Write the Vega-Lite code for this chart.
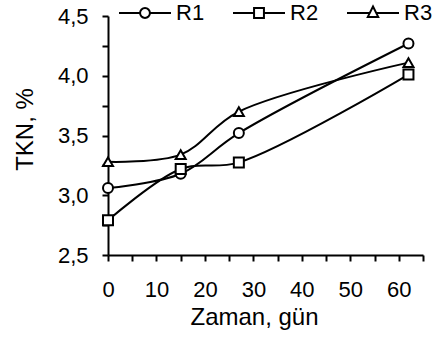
{
  "$schema": "https://vega.github.io/schema/vega-lite/v6.json",
  "width": 315,
  "height": 239,
  "autosize": {"type": "none"},
  "padding": {"left": 108, "top": 16, "right": 11, "bottom": 85},
  "background": "white",
  "config": {
    "view": {"stroke": null},
    "font": "Liberation Sans",
    "axis": {
      "grid": false,
      "domainColor": "black",
      "domainWidth": 2,
      "tickColor": "black",
      "tickWidth": 2,
      "tickSize": 6,
      "labelFont": "Liberation Sans",
      "labelFontSize": 22,
      "labelColor": "black",
      "titleFont": "Liberation Sans",
      "titleFontSize": 24,
      "titleFontWeight": "normal",
      "titleColor": "black"
    }
  },
  "data": {
    "values": [
      {"series": "R1", "day": 0, "tkn": 3.06},
      {"series": "R1", "day": 15, "tkn": 3.18},
      {"series": "R1", "day": 27, "tkn": 3.52},
      {"series": "R1", "day": 62, "tkn": 4.27},
      {"series": "R2", "day": 0, "tkn": 2.79},
      {"series": "R2", "day": 15, "tkn": 3.22},
      {"series": "R2", "day": 27, "tkn": 3.275},
      {"series": "R2", "day": 62, "tkn": 4.01},
      {"series": "R3", "day": 0, "tkn": 3.28},
      {"series": "R3", "day": 15, "tkn": 3.34},
      {"series": "R3", "day": 27, "tkn": 3.7},
      {"series": "R3", "day": 62, "tkn": 4.11}
    ]
  },
  "encoding": {
    "x": {
      "field": "day",
      "type": "quantitative",
      "scale": {"domain": [0, 65], "nice": false},
      "axis": {
        "title": "Zaman, gün",
        "values": [0, 5, 10, 15, 20, 25, 30, 35, 40, 45, 50, 55, 60, 65],
        "labelExpr": "datum.value % 10 == 0 && datum.value <= 60 ? datum.label : ''",
        "labelPadding": 18,
        "titlePadding": 5,
        "titleX": 146,
        "titleAnchor": "middle",
        "labelFlush": false
      }
    },
    "y": {
      "field": "tkn",
      "type": "quantitative",
      "scale": {"domain": [2.5, 4.5], "nice": false, "zero": false},
      "axis": {
        "title": "TKN, %",
        "values": [2.5, 2.75, 3, 3.25, 3.5, 3.75, 4, 4.25, 4.5],
        "labelExpr": "round(datum.value * 4) % 2 == 0 ? replace(format(datum.value, '.1f'), '.', ',') : ''",
        "labelPadding": 14,
        "titlePadding": 20,
        "titleY": 113,
        "titleAnchor": "middle",
        "labelFlush": false
      }
    }
  },
  "resolve": {"scale": {"shape": "independent"}, "legend": {"shape": "independent"}},
  "layer": [
    {
      "mark": {"type": "line", "interpolate": "catmull-rom", "color": "black", "strokeWidth": 2},
      "encoding": {"detail": {"field": "series"}}
    },
    {
      "mark": {"type": "point", "filled": true, "fill": "white", "stroke": "black", "strokeWidth": 2, "size": 100, "opacity": 1},
      "encoding": {
        "shape": {
          "field": "series",
          "type": "nominal",
          "scale": {"domain": ["R1", "R2", "R3"], "range": ["circle", "square", "triangle-up"]},
          "legend": null
        }
      }
    },
    {
      "transform": [{"filter": "datum.day < 0"}],
      "mark": {"type": "point", "filled": false, "stroke": "black", "strokeWidth": 2, "opacity": 1},
      "encoding": {
        "shape": {
          "field": "series",
          "type": "nominal",
          "scale": {
            "domain": ["R1", "R2", "R3"],
            "range": [
              "M-1,0H-0.19M0.19,0H1M0.19,0A0.19,0.19,0,1,1,-0.19,0A0.19,0.19,0,1,1,0.19,0Z",
              "M-1,0H-0.19M0.19,0H1M-0.19,-0.19H0.19V0.19H-0.19Z",
              "M-1,0H-0.13M0.13,0H1M0,-0.25L0.2,0.15L-0.2,0.15Z"
            ]
          },
          "legend": {
            "title": null,
            "orient": "none",
            "legendX": 10,
            "legendY": -30,
            "direction": "horizontal",
            "columns": 3,
            "columnPadding": 24,
            "labelOffset": 4,
            "labelFont": "Liberation Sans",
            "labelFontSize": 22,
            "labelColor": "black",
            "symbolSize": 2704,
            "symbolStrokeWidth": 2,
            "symbolStrokeColor": "black",
            "symbolFillColor": "white",
            "symbolOpacity": 1
          }
        }
      }
    }
  ]
}
